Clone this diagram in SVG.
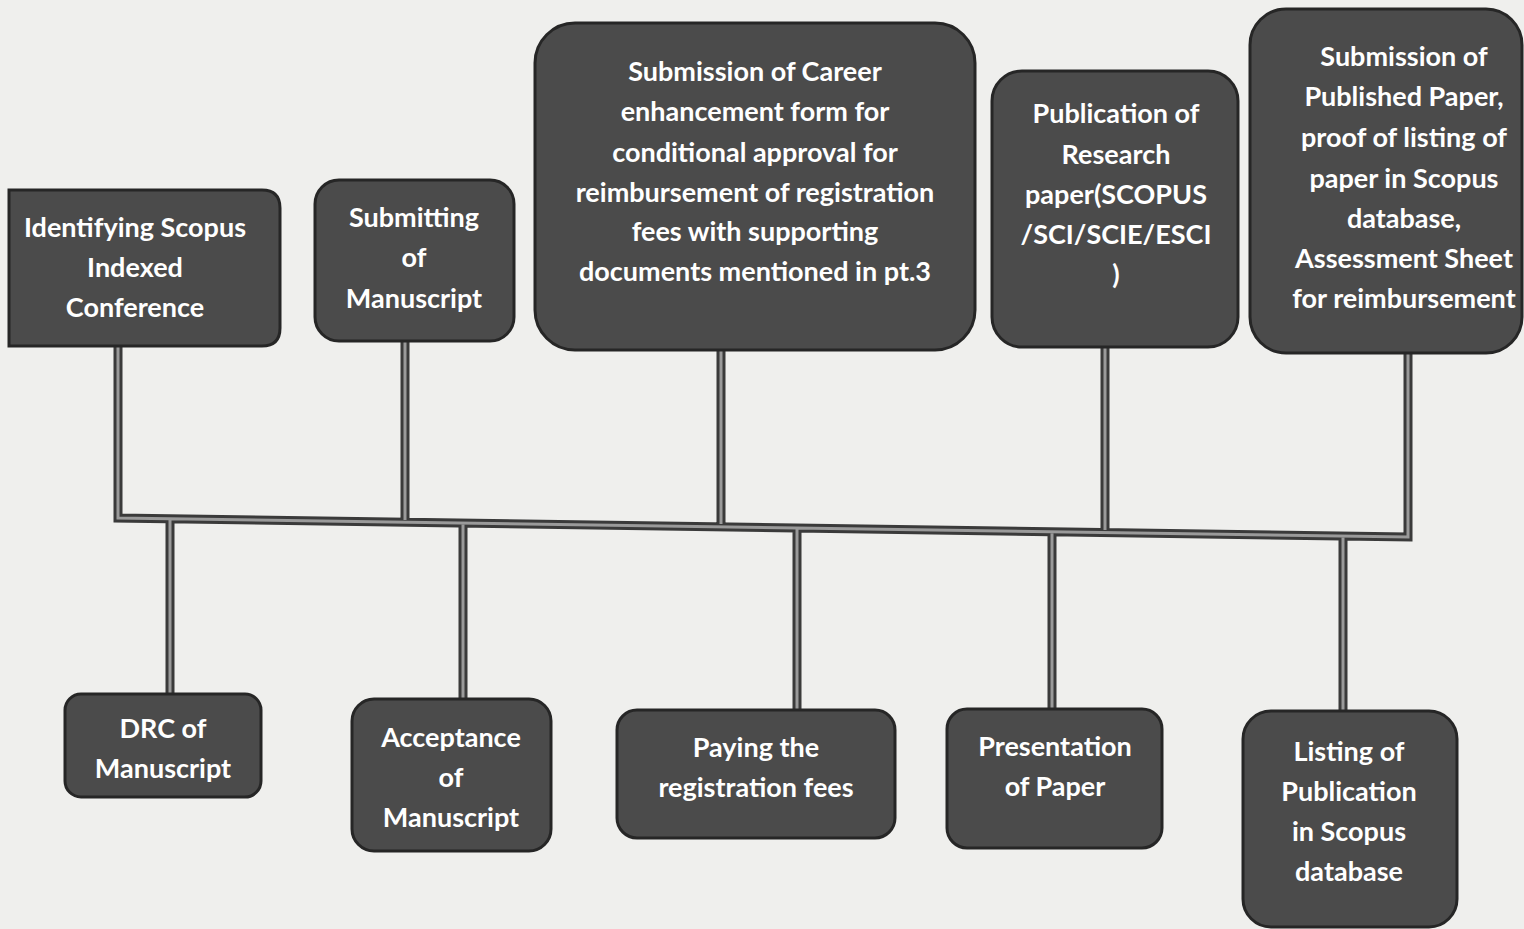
<svg xmlns="http://www.w3.org/2000/svg" width="1524" height="929" viewBox="0 0 1524 929">
<style>
.box{fill:#4b4b4b;stroke:#262626;stroke-width:3}
.t{fill:#ffffff;font-family:Lato,"Open Sans","Liberation Sans",sans-serif;font-weight:bold;font-size:27px;text-anchor:middle}
.co{fill:none;stroke:#3a3a3a;stroke-width:9;stroke-linejoin:miter}
.ci{fill:none;stroke:#9a9a9a;stroke-width:3;stroke-linejoin:miter}
</style>
<rect x="0" y="0" width="1524" height="929" fill="#efefed"/>
<g id="connectors">
<path class="co" d="M118 346 V518 L1408 537 V353 M405 341 V520 M721 350 V524 M1105 347 V530 M170 519 V693 M463 523 V698 M797 528 V710 M1052 532 V709 M1343 536 V711"/>
<path class="ci" d="M118 346 V518 L1408 537 V353 M405 341 V520 M721 350 V524 M1105 347 V530 M170 519 V693 M463 523 V698 M797 528 V710 M1052 532 V709 M1343 536 V711"/>
</g>
<g id="n1">
<path class="box" d="M9 190 H262 Q280 190 280 208 V328 Q280 346 262 346 H9 Z"/>
<text class="t" x="135" y="237">Identifying Scopus</text>
<text class="t" x="135" y="277">Indexed</text>
<text class="t" x="135" y="317">Conference</text>
</g>
<g id="n2">
<rect class="box" x="315" y="180" width="199" height="161" rx="24"/>
<text class="t" x="414" y="227">Submitting</text>
<text class="t" x="414" y="267">of</text>
<text class="t" x="414" y="308">Manuscript</text>
</g>
<g id="n3">
<rect class="box" x="535" y="23" width="440" height="327" rx="40"/>
<text class="t" x="755" y="81">Submission of Career</text>
<text class="t" x="755" y="121">enhancement form for</text>
<text class="t" x="755" y="162">conditional approval for</text>
<text class="t" x="755" y="202">reimbursement of registration</text>
<text class="t" x="755" y="241">fees with supporting</text>
<text class="t" x="755" y="281">documents mentioned in pt.3</text>
</g>
<g id="n4">
<rect class="box" x="992" y="71" width="246" height="276" rx="30"/>
<text class="t" x="1116" y="123">Publication of</text>
<text class="t" x="1116" y="164">Research</text>
<text class="t" x="1116" y="204">paper(SCOPUS</text>
<text class="t" x="1116" y="244">/SCI/SCIE/ESCI</text>
<text class="t" x="1116" y="284">)</text>
</g>
<g id="n5">
<rect class="box" x="1250" y="9" width="272" height="344" rx="36"/>
<text class="t" x="1404" y="66">Submission of</text>
<text class="t" x="1404" y="106">Published Paper,</text>
<text class="t" x="1404" y="147">proof of listing of</text>
<text class="t" x="1404" y="188">paper in Scopus</text>
<text class="t" x="1404" y="228">database,</text>
<text class="t" x="1404" y="268">Assessment Sheet</text>
<text class="t" x="1404" y="308">for reimbursement</text>
</g>
<g id="n6">
<rect class="box" x="65" y="694" width="196" height="103" rx="16"/>
<text class="t" x="163" y="738">DRC of</text>
<text class="t" x="163" y="778">Manuscript</text>
</g>
<g id="n7">
<rect class="box" x="352" y="699" width="199" height="152" rx="22"/>
<text class="t" x="451" y="747">Acceptance</text>
<text class="t" x="451" y="787">of</text>
<text class="t" x="451" y="827">Manuscript</text>
</g>
<g id="n8">
<rect class="box" x="617" y="710" width="278" height="128" rx="20"/>
<text class="t" x="756" y="757">Paying the</text>
<text class="t" x="756" y="797">registration fees</text>
</g>
<g id="n9">
<rect class="box" x="947" y="709" width="215" height="139" rx="20"/>
<text class="t" x="1055" y="756">Presentation</text>
<text class="t" x="1055" y="796">of Paper</text>
</g>
<g id="n10">
<rect class="box" x="1243" y="711" width="214" height="216" rx="28"/>
<text class="t" x="1349" y="761">Listing of</text>
<text class="t" x="1349" y="801">Publication</text>
<text class="t" x="1349" y="841">in Scopus</text>
<text class="t" x="1349" y="881">database</text>
</g>
</svg>
